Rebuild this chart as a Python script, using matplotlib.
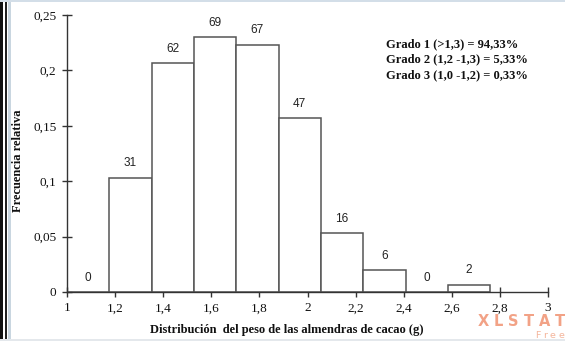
import matplotlib
matplotlib.use("Agg")
import matplotlib.pyplot as plt
from matplotlib.patches import Rectangle
import numpy as np

# Histogram of cocoa bean weights (300 beans)
bin_start = 1.0
bin_width = 0.176
counts = [0, 31, 62, 69, 67, 47, 16, 6, 0, 2]
total = 300

x_ticks = [1, 1.2, 1.4, 1.6, 1.8, 2, 2.2, 2.4, 2.6, 2.8, 3]
x_ticklabels = ["1", "1,2", "1,4", "1,6", "1,8", "2", "2,2", "2,4", "2,6", "2,8", "3"]
y_ticks = [0, 0.05, 0.1, 0.15, 0.2, 0.25]
y_ticklabels = ["0", "0,05", "0,1", "0,15", "0,2", "0,25"]

grade_lines = [
    "Grado 1 (>1,3) = 94,33%",
    "Grado 2 (1,2 -1,3) = 5,33%",
    "Grado 3 (1,0 -1,2) = 0,33%",
]

serif = ["Liberation Serif", "DejaVu Serif"]
sans = ["Liberation Sans", "DejaVu Sans"]
wide_sans = ["DejaVu Sans"]

W, H = 565, 341
fig = plt.figure(figsize=(W / 100, H / 100), dpi=100)
fig.patch.set_facecolor("white")

ax = fig.add_axes([67 / W, 1 - 292 / H, (548 - 67) / W, (292 - 15) / H])

edges = bin_start + bin_width * np.arange(len(counts) + 1)
rel = np.array(counts) / total
ax.bar(edges[:-1], rel, width=bin_width, align="edge",
       facecolor="white", edgecolor="#555555", linewidth=1.1, zorder=2)

for left, c, r in zip(edges[:-1], counts, rel):
    ax.annotate(str(c), (left + bin_width / 2, r), xytext=(0, 6),
                textcoords="offset points", ha="center", va="bottom",
                fontsize=8.5, family=sans, color="#222222")

ax.set_xlim(1, 3)
ax.set_ylim(0, 0.25)
ax.set_xticks(x_ticks)
ax.set_xticklabels(x_ticklabels)
ax.set_yticks(y_ticks)
ax.set_yticklabels(y_ticklabels)
for s in ("top", "right"):
    ax.spines[s].set_visible(False)
for s in ("left", "bottom"):
    ax.spines[s].set_color("#333333")
    ax.spines[s].set_linewidth(1.0)
    ax.spines[s].set_zorder(3)
ax.tick_params(direction="inout", length=7, width=1.0, color="#333333",
               labelsize=9.5, pad=4)
for lab in ax.get_xticklabels() + ax.get_yticklabels():
    lab.set_family(serif)
    lab.set_color("#111111")

# Grade summary
for i, line in enumerate(grade_lines):
    fig.text(386 / W, 1 - (44 + 15.5 * i) / H, line, ha="left", va="center",
             fontsize=9, fontweight="bold", family=serif, color="#111111")

fig.text(18 / W, 1 - 161 / H, "Frecuencia relativa", rotation=90,
         ha="center", va="center", fontsize=9, fontweight="bold",
         family=serif, color="#111111")
fig.text(287 / W, 1 - 330 / H, "Distribución  del peso de las almendras de cacao (g)",
         ha="center", va="center", fontsize=9, fontweight="bold",
         family=serif, color="#111111")


def tracked_text(s, x0, x1, baseline, size, weight, color):
    """Write s letter by letter, spread evenly between pixel columns x0 and x1."""
    renderer = fig.canvas.get_renderer()
    widths = []
    for ch in s:
        t = fig.text(0, 0, ch, fontsize=size, fontweight=weight, family=wide_sans)
        widths.append(t.get_window_extent(renderer).width)
        t.remove()
    gap = (x1 - x0 - sum(widths)) / (len(s) - 1)
    x = x0
    for ch, w in zip(s, widths):
        fig.text(x / W, 1 - baseline / H, ch, ha="left", va="baseline",
                 fontsize=size, fontweight=weight, family=wide_sans, color=color)
        x += w + gap


# Watermark
tracked_text("XLSTAT", 478, 565, 326, 10.5, "bold", "#f2a286")
tracked_text("Free", 535, 564, 338.5, 6.8, "normal", "#f4b49a")

# Window frame
fig.add_artist(Rectangle((0, 0), 2.5 / W, 1, transform=fig.transFigure,
                         facecolor="#111111", edgecolor="none"))
fig.add_artist(Rectangle((4.5 / W, 0), 2 / W, 1, transform=fig.transFigure,
                         facecolor="#222222", edgecolor="none"))
fig.add_artist(Rectangle((8 / W, 0), 2.5 / W, 1, transform=fig.transFigure,
                         facecolor="#c9d6e0", edgecolor="none"))
fig.add_artist(Rectangle((0, 1 - 2 / H), 1, 2 / H, transform=fig.transFigure,
                         facecolor="#d3dee8", edgecolor="none"))
fig.add_artist(Rectangle((0, 0), 1, 2 / H, transform=fig.transFigure,
                         facecolor="#e4e8ec", edgecolor="none"))

fig.savefig("out.png", dpi=100, facecolor=fig.get_facecolor())
